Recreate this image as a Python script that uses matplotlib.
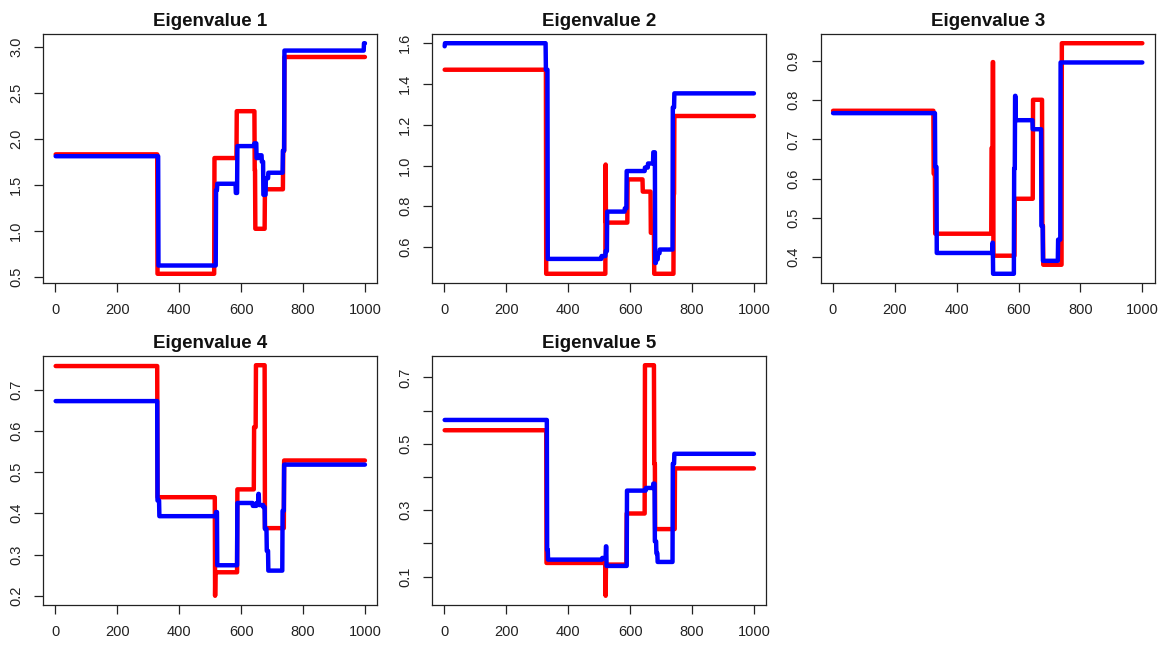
import numpy as np
import matplotlib
matplotlib.use("Agg")
import matplotlib.pyplot as plt

plt.rcParams['font.family'] = ['Liberation Sans', 'DejaVu Sans']

# ---- data: piecewise-constant series (segment start index, level) ----
titles = ["Eigenvalue 1", "Eigenvalue 2", "Eigenvalue 3", "Eigenvalue 4", "Eigenvalue 5"]
n_points = 1000

red1_breaks = [1, 330, 514, 586, 644, 646, 677, 736, 740]
red1_levels = [1.83, 0.53, 1.79, 2.30, 1.66, 1.02, 1.45, 1.87, 2.89]
blue1_breaks = [1, 333, 519, 523, 583, 588, 643, 650, 657, 667, 672, 680, 688, 735, 740, 997]
blue1_levels = [1.81, 0.62, 1.44, 1.51, 1.41, 1.92, 1.95, 1.79, 1.82, 1.75, 1.39, 1.57, 1.63, 1.87, 2.96, 3.04]

red2_breaks = [1, 329, 521, 522, 592, 641, 667, 678, 741, 743]
red2_levels = [1.47, 0.469, 1.005, 0.72, 0.932, 0.872, 0.67, 0.469, 0.86, 1.243]
blue2_breaks = [1, 2, 328, 334, 508, 521, 526, 583, 589, 648, 658, 675, 681, 684, 690, 696, 738, 743]
blue2_levels = [1.585, 1.60, 1.47, 0.542, 0.556, 0.58, 0.774, 0.79, 0.973, 0.99, 1.01, 1.065, 0.522, 0.54, 0.57, 0.588, 1.285, 1.354]

red3_breaks = [1, 326, 331, 513, 517, 519, 588, 647, 677, 680, 740]
red3_levels = [0.773, 0.613, 0.46, 0.678, 0.897, 0.404, 0.549, 0.801, 0.48, 0.381, 0.945]
blue3_breaks = [1, 331, 336, 516, 518, 586, 589, 591, 646, 674, 679, 728, 736]
blue3_levels = [0.767, 0.63, 0.411, 0.437, 0.358, 0.626, 0.811, 0.749, 0.726, 0.48, 0.391, 0.445, 0.896]

red4_breaks = [1, 330, 516, 517, 588, 642, 648, 677, 739]
red4_levels = [0.757, 0.439, 0.20, 0.257, 0.458, 0.609, 0.759, 0.364, 0.528]
blue4_breaks = [1, 330, 336, 519, 523, 588, 638, 650, 656, 658, 672, 677, 683, 688, 734, 739]
blue4_levels = [0.672, 0.431, 0.393, 0.403, 0.274, 0.425, 0.418, 0.425, 0.447, 0.42, 0.415, 0.362, 0.309, 0.261, 0.406, 0.518]

red5_breaks = [1, 330, 521, 522, 589, 648, 678, 681, 745]
red5_levels = [0.541, 0.141, 0.042, 0.136, 0.290, 0.737, 0.44, 0.243, 0.426]
blue5_breaks = [1, 332, 335, 510, 522, 524, 590, 651, 675, 680, 685, 689, 738, 743]
blue5_levels = [0.572, 0.181, 0.151, 0.156, 0.191, 0.132, 0.359, 0.367, 0.38, 0.206, 0.17, 0.144, 0.44, 0.470]

xticks = [0, 200, 400, 600, 800, 1000]
yticks1 = [0.5, 1.0, 1.5, 2.0, 2.5, 3.0]
yticks2 = [0.6, 0.8, 1.0, 1.2, 1.4, 1.6]
yticks3 = [0.4, 0.5, 0.6, 0.7, 0.8, 0.9]
yticks4 = [0.2, 0.3, 0.4, 0.5, 0.6, 0.7]
yticks5 = [0.1, 0.2, 0.3, 0.4, 0.5, 0.6, 0.7]
ylabels5 = ["0.1", "", "0.3", "", "0.5", "", "0.7"]

panels = [
    (red1_breaks, red1_levels, blue1_breaks, blue1_levels, yticks1, None),
    (red2_breaks, red2_levels, blue2_breaks, blue2_levels, yticks2, None),
    (red3_breaks, red3_levels, blue3_breaks, blue3_levels, yticks3, None),
    (red4_breaks, red4_levels, blue4_breaks, blue4_levels, yticks4, None),
    (red5_breaks, red5_levels, blue5_breaks, blue5_levels, yticks5, ylabels5),
]

x = np.arange(1, n_points + 1)

def expand(breaks, levels):
    idx = np.searchsorted(np.asarray(breaks), x, side='right') - 1
    return np.asarray(levels, dtype=float)[idx]

W, H = 1169, 653
fig = plt.figure(figsize=(W / 100, H / 100), dpi=100)

col_left = [43.3, 432.3, 820.7]
row_top = [34, 356]
ax_w, ax_h = 334, 249

for i, (rb, rl, bb, bl, yt, ylab) in enumerate(panels):
    r, c = divmod(i, 3)
    left = col_left[c] / W
    bottom = 1 - (row_top[r] + ax_h) / H
    ax = fig.add_axes([left, bottom, ax_w / W, ax_h / H])
    yr = expand(rb, rl)
    yb = expand(bb, bl)
    ax.plot(x, yr, color='#ff0000', lw=3.2, solid_capstyle='round', solid_joinstyle='round')
    ax.plot(x, yb, color='#0000ff', lw=3.2, solid_capstyle='round', solid_joinstyle='round')
    lo = min(yr.min(), yb.min())
    hi = max(yr.max(), yb.max())
    pad = 0.04 * (hi - lo)
    ax.set_ylim(lo - pad, hi + pad)
    ax.set_xlim(1 - 0.04 * (n_points - 1), n_points + 0.04 * (n_points - 1))
    ax.set_xticks(xticks)
    ax.set_yticks(yt)
    if ylab is not None:
        ax.set_yticklabels(ylab)
    else:
        ax.set_yticklabels([f"{v:.1f}" for v in yt])
    ax.tick_params(direction='out', length=6.5, width=0.9, labelsize=10.5, colors='#222222', pad=8)
    for lab in ax.get_yticklabels():
        lab.set_rotation(90)
        lab.set_va('center')
    for s in ax.spines.values():
        s.set_linewidth(0.9)
        s.set_color('#222222')
    ax.set_title(titles[i], fontsize=13.5, fontweight='bold', pad=6, color='#111111')

fig.savefig("out.png", dpi=100)
